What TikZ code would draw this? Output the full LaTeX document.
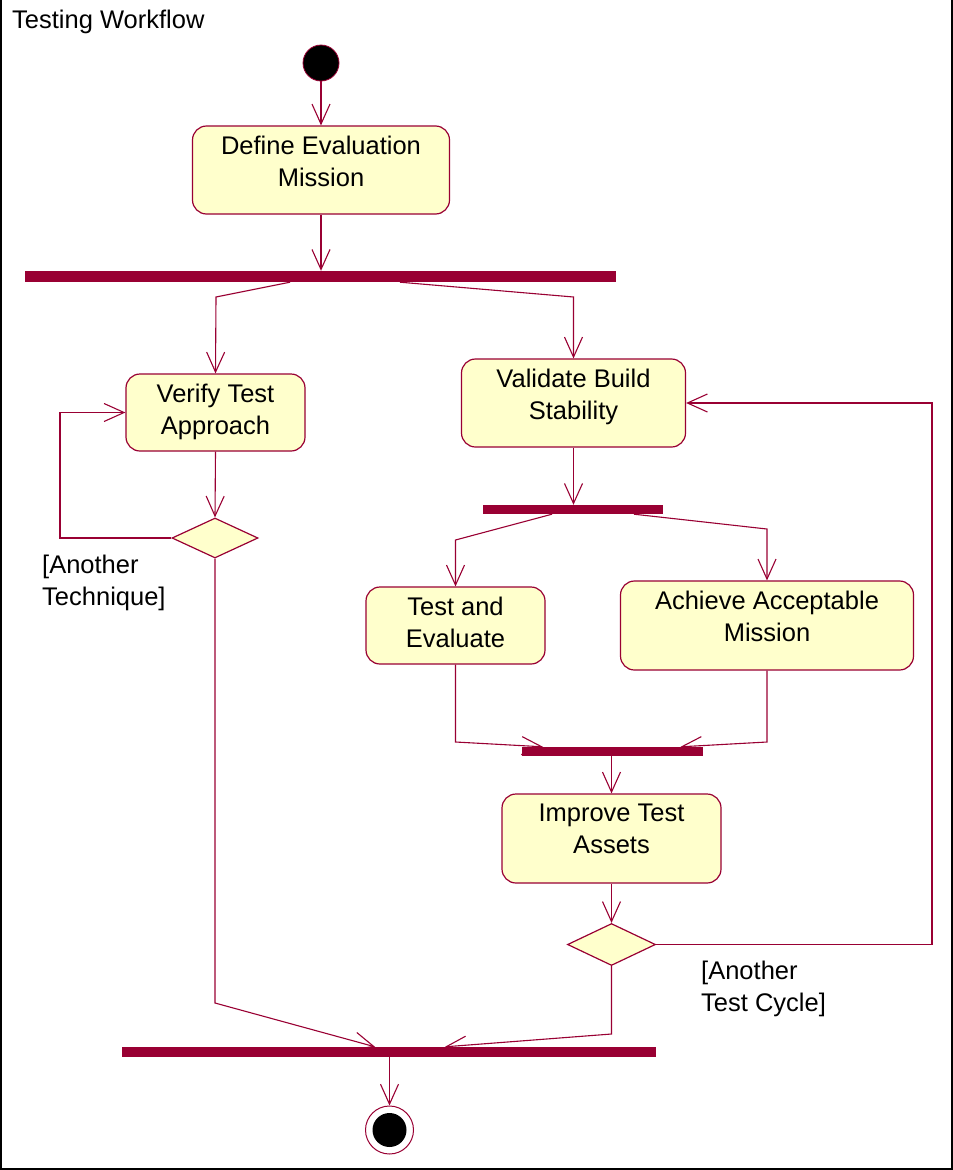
\documentclass[tikz,border=0pt]{standalone}
\usepackage{fontspec}
\setmainfont{Liberation Sans}
\usetikzlibrary{arrows.meta,shapes.geometric,calc}
\definecolor{umlred}{HTML}{990033}
\definecolor{umlfill}{HTML}{FFFFCC}
\begin{document}
\begin{tikzpicture}[x=1pt,y=-1pt,
  every node/.style={font=\fontsize{25.5}{32}\selectfont},
  activity/.style={draw=umlred, fill=umlfill, rounded corners=14pt, line width=1.2pt, inner sep=0pt},
  acttext/.style={anchor=north, align=center, inner sep=0pt},
  syncbar/.style={fill=umlred, inner sep=0pt},
  decision/.style={diamond, draw=umlred, fill=umlfill, line width=1.2pt, inner sep=0pt},
  flow/.style={draw=umlred, line width=1.1pt, -{Straight Barb[length=20pt,width=18pt]}},
  guard/.style={anchor=north west, align=left, inner sep=0pt},
]
\useasboundingbox (0,0) rectangle (953,1170);

% frame of the activity diagram
\draw[line width=2pt] (1,0) -- (1,1169) -- (952,1169) -- (952,0);
\node[anchor=north west, inner sep=0pt] (title) at (12,10) {Testing Workflow};

% initial node
\node[circle, fill=black, draw=umlred, line width=0.8pt, minimum size=36pt, inner sep=0pt] (start) at (321,63) {};

% activities
\node[activity, minimum width=257pt, minimum height=88pt] (define) at (321,170) {};
\node[acttext] (defineT) at ([yshift=-10pt]define.north) {Define Evaluation\\Mission};

\node[activity, minimum width=179pt, minimum height=77pt] (verify) at (215.5,412.5) {};
\node[acttext] (verifyT) at ([yshift=-10pt]verify.north) {Verify Test\\Approach};

\node[activity, minimum width=224pt, minimum height=88pt] (validate) at (573.5,403) {};
\node[acttext] (validateT) at ([yshift=-10pt]validate.north) {Validate Build\\Stability};

\node[activity, minimum width=179pt, minimum height=77pt] (test) at (455.5,625.5) {};
\node[acttext] (testT) at ([yshift=-10pt]test.north) {Test and\\Evaluate};

\node[activity, minimum width=293pt, minimum height=89pt] (achieve) at (767,625.5) {};
\node[acttext] (achieveT) at ([yshift=-10pt]achieve.north) {Achieve Acceptable\\Mission};

\node[activity, minimum width=219pt, minimum height=89pt] (improve) at (611.5,838.5) {};
\node[acttext] (improveT) at ([yshift=-10pt]improve.north) {Improve Test\\Assets};

% fork / join bars
\node[syncbar, minimum width=591pt, minimum height=11pt] (bar1) at (320.5,276.5) {};
\node[syncbar, minimum width=180pt, minimum height=9pt] (bar2) at (573,509.5) {};
\node[syncbar, minimum width=181pt, minimum height=9pt] (bar3) at (612.5,751.5) {};
\node[syncbar, minimum width=534pt, minimum height=10pt] (bar4) at (389,1052) {};

% decisions
\node[decision, minimum width=86pt, minimum height=40pt] (dec1) at (215,538) {};
\node[decision, minimum width=88pt, minimum height=42pt] (dec2) at (611.5,944.5) {};

% final node
\node[circle, draw=umlred, fill=white, line width=1pt, minimum size=48pt, inner sep=0pt] (final) at (389.5,1130) {};
\node[circle, fill=black, minimum size=34pt, inner sep=0pt] (finalDot) at (final) {};

% guards
\node[guard] (guard1) at (42,555) {[Another\\Technique]};
\node[guard] (guard2) at (701,961) {[Another\\Test Cycle]};

% control flows
\draw[flow] (start) -- (define);
\draw[flow] (define.south) -- (define.south |- bar1.north);
\draw[flow] ([xshift=-30.5pt]bar1.south) -- (216,297) -- (verify.north);
\draw[flow] ([xshift=79.5pt]bar1.south) -- (573.5,297) -- (validate.north);
\draw[flow] (verify.south) -- (dec1.north);
\draw[flow] (dec1.west) -| (60,412.5) -- (verify.west);
\draw[flow] (dec1.south) -- (215,1003) -- ([xshift=-14pt]bar4.north);
\draw[flow] (validate.south) -- (validate.south |- bar2.north);
\draw[flow] ([xshift=-21pt]bar2.south) -- (455.5,540) -- (test.north);
\draw[flow] ([xshift=61pt]bar2.south) -- (767,529) -- (achieve.north);
\draw[flow] (test.south) -- (455.5,742) -- ([xshift=-69.5pt]bar3.north);
\draw[flow] (achieve.south) -- (767,742) -- ([xshift=68pt]bar3.north);
\draw[flow] (bar3.south -| improve.north) -- (improve.north);
\draw[flow] (improve.south) -- (dec2.north);
\draw[flow] (dec2.east) -| (932,403) -- (validate.east);
\draw[flow] (dec2.south) -- (611.5,1034) -- ([xshift=56pt]bar4.north);
\draw[flow] (bar4.south -| final.north) -- (final.north);
\end{tikzpicture}
\end{document}
